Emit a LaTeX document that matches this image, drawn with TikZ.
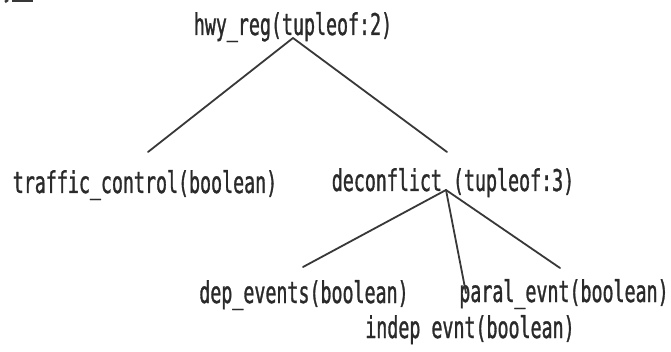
\documentclass[tikz,border=0pt]{standalone}
\usepackage{fontspec}
\setmainfont{DejaVu Sans Mono}[FakeStretch=0.61,FakeBold=1]
\begin{document}
\begin{tikzpicture}[x=1pt,y=-1pt,
  lbl/.style={anchor=base,inner sep=0pt,text=txtgray,font=\fontsize{30}{36}\selectfont},
  edge/.style={draw=linegray,line width=1.8pt,line cap=round}]
\definecolor{txtgray}{HTML}{2A2A2A}
\definecolor{linegray}{HTML}{383838}
\useasboundingbox (0,0) rectangle (671,352);
% cut-off fragment at top left
\draw[linegray,line width=2.5pt] (5,2) -- (8,0);
\draw[linegray,line width=2.5pt] (12,1) -- (33,1);
% labels
\node[lbl] (hwy) at (293,35) {hwy\_reg(tupleof:2)};
\node[lbl] (traffic) at (145,193) {traffic\_control(boolean)};
\node[lbl] (decon) at (453,191) {deconflict (tupleof:3)};
\node[lbl] (dep) at (304,303) {dep\_events(boolean)};
\node[lbl] (paral) at (564,302) {paral\_evnt(boolean)};
\node[lbl] (indep) at (470,338) {indep evnt(boolean)};
% joints and line ends
\coordinate (hwyj) at (293,38);
\coordinate (trafe) at (148,152);
\coordinate (decone) at (447,152);
\coordinate (deconj) at (446,190);
\coordinate (depe) at (303,267);
\coordinate (indepe) at (466,293);
\coordinate (parale) at (560,268);
% connectors
\draw[edge] (hwyj) -- (trafe);
\draw[edge] (hwyj) -- (decone);
\draw[edge] (deconj) -- (depe);
\draw[edge] (deconj) -- (indepe);
\draw[edge] (deconj) -- (parale);
\end{tikzpicture}
\end{document}
